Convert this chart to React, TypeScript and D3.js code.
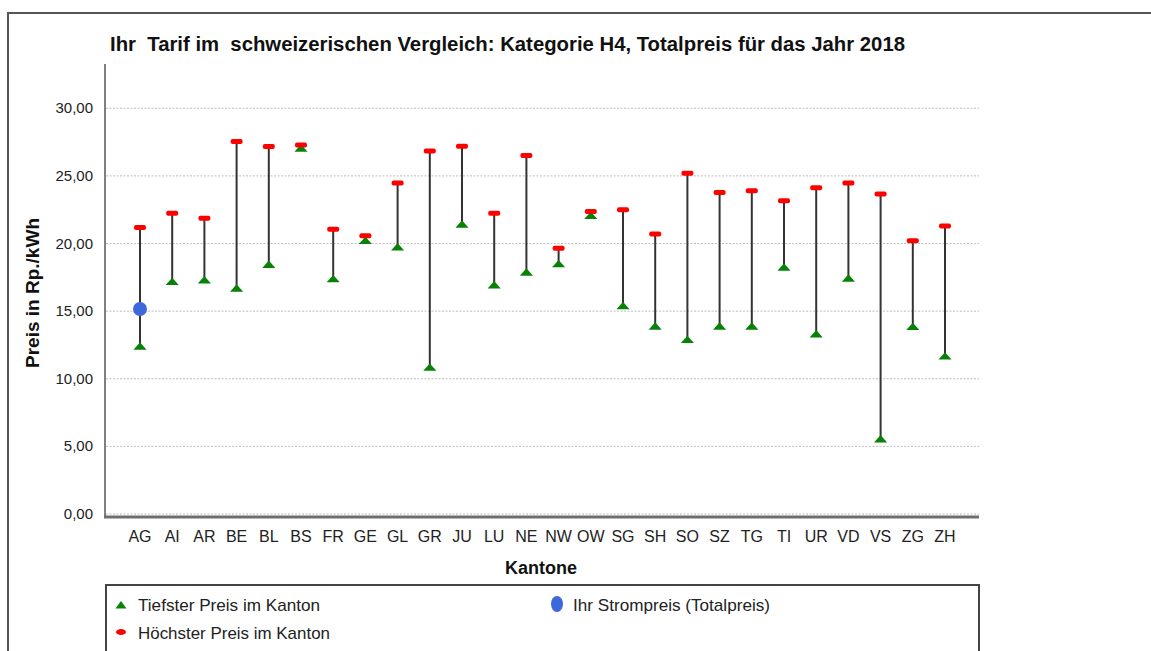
import React from 'react';
import * as d3 from 'd3';

// chart data
const cantons = ['AG', 'AI', 'AR', 'BE', 'BL', 'BS', 'FR', 'GE', 'GL', 'GR', 'JU', 'LU', 'NE',
  'NW', 'OW', 'SG', 'SH', 'SO', 'SZ', 'TG', 'TI', 'UR', 'VD', 'VS', 'ZG', 'ZH'];
const minPrice = [12.33, 17.11, 17.23, 16.62, 18.37, 26.97, 17.31, 20.14, 19.67, 10.77, 21.35, 16.86, 17.8,
  18.42, 21.99, 15.33, 13.81, 12.82, 13.81, 13.81, 18.17, 13.24, 17.36, 5.47, 13.78, 11.6];
const maxPrice = [21.18, 22.24, 21.87, 27.54, 27.17, 27.29, 21.06, 20.58, 24.48, 26.85, 27.19, 22.24, 26.5,
  19.65, 22.36, 22.49, 20.71, 25.2, 23.77, 23.91, 23.17, 24.13, 24.48, 23.67, 20.2, 21.3];
const yourCanton = 'AG';
const yourPrice = 15.16;
const yTicks = [0, 5, 10, 15, 20, 25, 30];

const FONT = '"Liberation Sans", Arial, sans-serif';

export default function App() {
  const x = d3.scalePoint<string>().domain(cantons).range([140, 945]);
  const y = d3.scaleLinear().domain([0, 33.2]).range([514, 65]);
  const fmt = (v: number) => d3.format('.2f')(v).replace('.', ',');
  const tri = d3.symbol().type(d3.symbolTriangle).size(44);

  return (
    <svg width={1151} height={651} style={{ position: 'absolute', left: 0, top: 0, background: '#fff' }}
      fontFamily={FONT}>
      {/* outer frame */}
      <path d="M8,651 V13 H1151" fill="none" stroke="#555" strokeWidth={2} />

      <text x={110} y={51} fontSize={19.5} fontWeight="bold" fill="#111" textLength={795}
        lengthAdjust="spacingAndGlyphs" style={{ whiteSpace: 'pre' }}>
        {'Ihr  Tarif im  schweizerischen Vergleich: Kategorie H4, Totalpreis für das Jahr 2018'}
      </text>

      {/* gridlines */}
      {yTicks.map((t) => (
        <line key={t} x1={106} x2={979} y1={y(t)} y2={y(t)} stroke="#bdbdbd" strokeWidth={1}
          strokeDasharray="2,1.5" />
      ))}
      {yTicks.map((t) => (
        <text key={'l' + t} x={93} y={y(t) + 5} fontSize={15} textAnchor="end" fill="#222">{fmt(t)}</text>
      ))}

      {/* axes */}
      <line x1={105} x2={105} y1={64} y2={518} stroke="#808080" strokeWidth={2} />
      <line x1={104} x2={979} y1={517} y2={517} stroke="#6e6e6e" strokeWidth={3} />

      <text transform="translate(39,293) rotate(-90)" textAnchor="middle" fontSize={18} fontWeight="bold"
        fill="#111" textLength={150} lengthAdjust="spacingAndGlyphs">Preis in Rp./kWh</text>

      {/* range lines */}
      {cantons.map((c, i) => (
        <line key={'r' + c} x1={x(c)} x2={x(c)} y1={y(maxPrice[i])} y2={y(minPrice[i])}
          stroke="#333" strokeWidth={2} />
      ))}
      {/* lowest price */}
      {cantons.map((c, i) => (
        <path key={'t' + c} d={tri() as string} fill="#078207"
          transform={`translate(${x(c)},${y(minPrice[i])}) scale(1.3,0.85)`} />
      ))}
      {/* highest price */}
      {cantons.map((c, i) => (
        <rect key={'m' + c} x={(x(c) as number) - 6} y={y(maxPrice[i]) - 2.5} width={12} height={5} rx={2}
          fill="#ff0000" />
      ))}
      {/* your price */}
      <circle cx={x(yourCanton)} cy={y(yourPrice)} r={7} fill="#3e67dc" />

      {cantons.map((c) => (
        <text key={'x' + c} x={x(c)} y={542} fontSize={16} textAnchor="middle" fill="#222">{c}</text>
      ))}
      <text x={541} y={574} fontSize={18} fontWeight="bold" textAnchor="middle" fill="#111"
        textLength={72} lengthAdjust="spacingAndGlyphs">Kantone</text>

      {/* legend */}
      <path d="M106,651 V585 H979 V651" fill="none" stroke="#444" strokeWidth={2} />
      <path d={tri() as string} fill="#078207" transform="translate(121,606) scale(1.1,0.85)" />
      <text x={138} y={611} fontSize={17} fill="#222" textLength={182}
        lengthAdjust="spacingAndGlyphs">Tiefster Preis im Kanton</text>
      <ellipse cx={121} cy={632} rx={5} ry={3} fill="#ff0000" />
      <text x={138} y={639} fontSize={17} fill="#222" textLength={192}
        lengthAdjust="spacingAndGlyphs">Höchster Preis im Kanton</text>
      <ellipse cx={557} cy={604} rx={6} ry={8} fill="#3e67dc" />
      <text x={573} y={611} fontSize={17} fill="#222" textLength={197}
        lengthAdjust="spacingAndGlyphs">Ihr Strompreis (Totalpreis)</text>
    </svg>
  );
}
